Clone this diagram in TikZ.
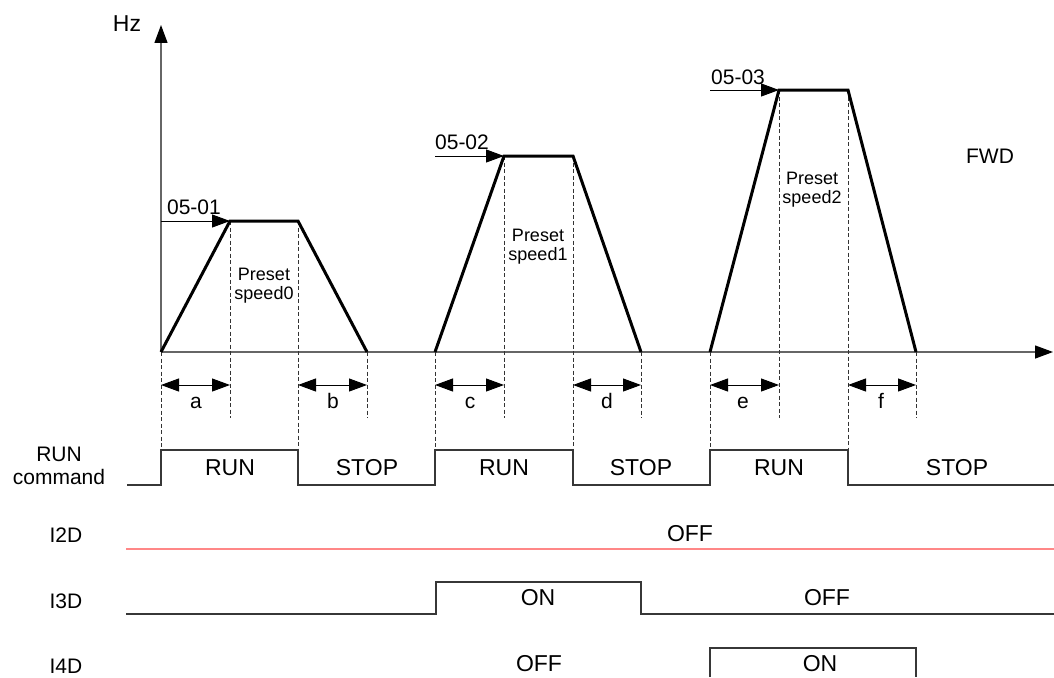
\documentclass[tikz,border=0pt]{standalone}
\usepackage{fontspec}
\setmainfont{Liberation Sans}
\usetikzlibrary{arrows.meta, calc}
\definecolor{offred}{RGB}{255,135,135}
\definecolor{wire}{RGB}{55,55,55}

\begin{document}
\begin{tikzpicture}[
    x=1pt, y=-1pt,
    axis/.style={draw=black!60, line width=1.3pt,
                 -{Triangle[length=18pt,width=13pt,color=black]}},
    ramp/.style={line width=3pt, line join=miter},
    guide/.style={dash pattern=on 4pt off 2.5pt, line width=0.9pt, draw=black!80},
    span/.style={line width=1pt,
                 {Triangle[length=18pt,width=13pt]}-{Triangle[length=18pt,width=13pt]}},
    level/.style={line width=1pt, -{Triangle[length=18pt,width=13pt]}},
    sig/.style={draw=wire, line width=1.4pt},
    lbl/.style={font=\fontsize{21}{23}\selectfont, inner sep=0pt, anchor=base},
    big/.style={font=\fontsize{23}{26}\selectfont, inner sep=0pt, anchor=base},
    note/.style={font=\fontsize{18}{19}\selectfont, align=center, inner sep=0pt},
]
\useasboundingbox (0,0) rectangle (1054,677);

% corners of the three speed profiles
\coordinate (O)  at (161,352);
\coordinate (r1) at (230,221); \coordinate (f1) at (298,221); \coordinate (z1) at (367,352);
\coordinate (s2) at (435,352); \coordinate (r2) at (504,156); \coordinate (f2) at (573,156); \coordinate (z2) at (641,352);
\coordinate (s3) at (710,352); \coordinate (r3) at (779,90);  \coordinate (f3) at (848,90);  \coordinate (z3) at (916,352);
\coordinate (ytop) at (161,25);
\coordinate (xend) at (1053,352);
\coordinate (runhi) at (0,450);
\coordinate (runlo) at (0,485);
\coordinate (guidelo) at (0,418);
\coordinate (spanrow) at (0,385);

% axes
\draw[axis] (O) -- (ytop);
\draw[axis] (O) -- (xend);
\node[big] (hz) at (127,32) {Hz};
\node[lbl] (fwd) at (990,163) {FWD};

% dashed guides
\draw[guide] (O)  -- (O |- runhi);
\draw[guide] (r1) -- (r1 |- guidelo);
\draw[guide] (f1) -- (f1 |- runhi);
\draw[guide] (z1) -- (z1 |- guidelo);
\draw[guide] (s2) -- (s2 |- runhi);
\draw[guide] (r2) -- (r2 |- guidelo);
\draw[guide] (f2) -- (f2 |- runhi);
\draw[guide] (z2) -- (z2 |- guidelo);
\draw[guide] (s3) -- (s3 |- runhi);
\draw[guide] (r3) -- (r3 |- guidelo);
\draw[guide] (f3) -- (f3 |- runhi);
\draw[guide] (z3) -- (z3 |- guidelo);

% speed profiles
\draw[ramp] (O)  -- (r1) -- (f1) -- (z1);
\draw[ramp] (s2) -- (r2) -- (f2) -- (z2);
\draw[ramp] (s3) -- (r3) -- (f3) -- (z3);

% preset levels
\draw[level] (O |- r1)  -- (r1);
\draw[level] (s2 |- r2) -- (r2);
\draw[level] (s3 |- r3) -- (r3);
\node[lbl] (lv1) at (194,214) {05-01};
\node[lbl] (lv2) at (462,149) {05-02};
\node[lbl] (lv3) at (738,84)  {05-03};
\node[note] (ps0) at (264,286) {Preset\\speed0};
\node[note] (ps1) at (538,247) {Preset\\speed1};
\node[note] (ps2) at (812,190) {Preset\\speed2};

% accel / decel times
\draw[span] (O |- spanrow)  -- (r1 |- spanrow);
\draw[span] (f1 |- spanrow) -- (z1 |- spanrow);
\draw[span] (s2 |- spanrow) -- (r2 |- spanrow);
\draw[span] (f2 |- spanrow) -- (z2 |- spanrow);
\draw[span] (s3 |- spanrow) -- (r3 |- spanrow);
\draw[span] (f3 |- spanrow) -- (z3 |- spanrow);
\node[lbl] (ta) at (196,408) {a};
\node[lbl] (tb) at (333,408) {b};
\node[lbl] (tc) at (470,408) {c};
\node[lbl] (td) at (607,408) {d};
\node[lbl] (te) at (743,408) {e};
\node[lbl] (tf) at (881,408) {f};

% RUN command
\node[font=\fontsize{21}{23}\selectfont, align=center, inner sep=0pt] (runcmd) at (59,466) {RUN\\command};
\draw[sig] (127,485) -- (O |- runlo) -- (O |- runhi) -- (f1 |- runhi) -- (f1 |- runlo)
   -- (s2 |- runlo) -- (s2 |- runhi) -- (f2 |- runhi) -- (f2 |- runlo)
   -- (s3 |- runlo) -- (s3 |- runhi) -- (f3 |- runhi) -- (f3 |- runlo) -- (1054,485);
\node[big] (run1)  at (230,475) {RUN};
\node[big] (stop1) at (367,475) {STOP};
\node[big] (run2)  at (504,475) {RUN};
\node[big] (stop2) at (641,475) {STOP};
\node[big] (run3)  at (779,475) {RUN};
\node[big] (stop3) at (957,475) {STOP};

% I2D
\node[lbl] (i2d) at (66,542) {I2D};
\draw[draw=offred, line width=2pt] (126,549) -- (1054,549);
\node[big] (i2off) at (690,541) {OFF};

% I3D
\node[lbl] (i3d) at (66,608) {I3D};
\draw[sig] (126,614) -- (436,614) -- (436,582) -- (641,582) -- (641,614) -- (1054,614);
\node[big] (i3on)  at (538,605) {ON};
\node[big] (i3off) at (827,605) {OFF};

% I4D
\node[lbl] (i4d) at (66,673) {I4D};
\draw[sig] (710,677) -- (710,648) -- (916,648) -- (916,677);
\node[big] (i4off) at (539,671) {OFF};
\node[big] (i4on)  at (820,671) {ON};
\end{tikzpicture}
\end{document}
